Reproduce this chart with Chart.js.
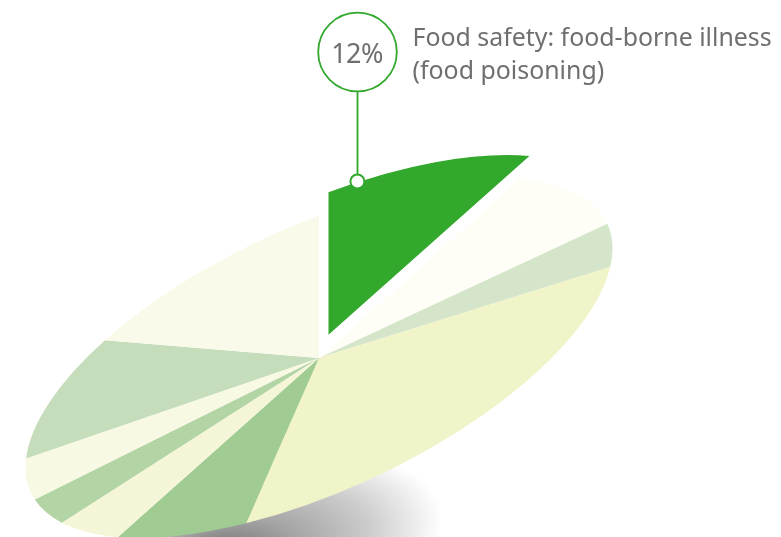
<!DOCTYPE html>
<html lang="en">
<head>
<meta charset="utf-8">
<title>Food safety concerns</title>
<style>
  html, body { margin: 0; padding: 0; background: #ffffff; }
  #wrap { position: relative; width: 781px; height: 537px; overflow: hidden; }
  canvas { display: block; }
</style>
<script src="https://cdn.jsdelivr.net/npm/chart.js@4/dist/chart.umd.min.js"></script>
</head>
<body>
<div id="wrap"><canvas id="pie" width="781" height="537"></canvas></div>
<script>
// Shares in percent, clockwise from twelve o'clock; the first slice is pulled out.
const shares = [12, 10, 5, 27, 8, 5, 4, 5, 11, 13];
const sliceColors = ['#32a82d', '#fefef6', '#d5e5c9', '#f1f3c9', '#a0cb93',
                     '#f5f6d8', '#b3d4a5', '#f8f9e3', '#c5ddbb', '#f9faea'];
const calloutValue = '12%';
const calloutLines = ['Food safety: food-borne illness', '(food poisoning)'];

const GREEN = '#32a82d';
const TEXT = '#6e6f71';
const FONT = '"Noto Sans", Lato, sans-serif';

// The flat pie is sheared onto a tilted ellipse: unit circle to page pixels.
const tilt = { ux: 293.5, uy: -109.6, vy: 142.5, cx: 319, cy: 358 };
// Displacement of the pulled-out slice, in page pixels.
const pull = { dx: 9.5, dy: -23.2 };

const tiltPlugin = {
  id: 'tilt',
  afterDatasetsUpdate(chart) {
    const arc = chart.getDatasetMeta(0).data[0];
    const R = arc.outerRadius;
    const u = pull.dx / tilt.ux;
    const v = (pull.dy - tilt.uy * u) / tilt.vy;
    arc.x += u * R;
    arc.y += v * R;
  },
  beforeDatasetsDraw(chart) {
    const { ctx } = chart;
    const arc = chart.getDatasetMeta(0).data[1];
    const R = arc.outerRadius;

    // Soft shadow under the lower rim, darkest off-centre towards the left.
    ctx.save();
    ctx.beginPath();
    ctx.rect(0, 0, chart.width, chart.height);
    ctx.clip();
    ctx.translate(270, 545);
    ctx.rotate(-12 * Math.PI / 180);
    ctx.scale(1, 0.5);
    const g = ctx.createRadialGradient(-75, 10, 0, 0, 0, 175);
    g.addColorStop(0, '#707070');
    g.addColorStop(0.2, '#808080');
    g.addColorStop(0.4, '#a4a4a4');
    g.addColorStop(0.7, '#cccccc');
    g.addColorStop(0.9, '#eeeeee');
    g.addColorStop(1, '#ffffff');
    ctx.fillStyle = g;
    ctx.beginPath();
    ctx.arc(0, 0, 175, 0, Math.PI * 2);
    ctx.fill();
    ctx.restore();

    ctx.save();
    const a = tilt.ux / R, b = tilt.uy / R, d = tilt.vy / R;
    ctx.transform(a, b, 0, d,
      tilt.cx - a * arc.x,
      tilt.cy - b * arc.x - d * arc.y);
  },
  afterDatasetsDraw(chart) {
    chart.ctx.restore();
  },
  afterDraw(chart) {
    const { ctx } = chart;
    ctx.save();

    // Leader line, ring and anchor dot.
    ctx.strokeStyle = GREEN;
    ctx.lineWidth = 1.8;
    ctx.beginPath();
    ctx.moveTo(357.5, 91);
    ctx.lineTo(357.5, 176);
    ctx.stroke();

    ctx.fillStyle = '#ffffff';
    ctx.beginPath();
    ctx.arc(357.5, 52, 39.3, 0, Math.PI * 2);
    ctx.fill();
    ctx.stroke();

    ctx.lineWidth = 2;
    ctx.beginPath();
    ctx.arc(357.4, 181.4, 7, 0, Math.PI * 2);
    ctx.fill();
    ctx.stroke();

    // Labels.
    ctx.fillStyle = TEXT;
    ctx.textBaseline = 'alphabetic';
    ctx.textAlign = 'center';
    ctx.font = '27px ' + FONT;
    ctx.letterSpacing = '-0.6px';
    ctx.fillText(calloutValue, 357, 62.5);

    ctx.textAlign = 'left';
    ctx.font = '24.9px ' + FONT;
    ctx.letterSpacing = '0px';
    ctx.fillText(calloutLines[0], 412.5, 46);
    ctx.fillText(calloutLines[1], 412.5, 78.5);
    ctx.restore();
  }
};

new Chart(document.getElementById('pie'), {
  type: 'pie',
  data: {
    datasets: [{
      data: shares,
      backgroundColor: sliceColors,
      borderWidth: 0,
      clip: false
    }]
  },
  options: {
    responsive: false,
    animation: false,
    events: [],
    layout: { padding: 0 },
    plugins: { legend: { display: false }, tooltip: { enabled: false } }
  },
  plugins: [tiltPlugin]
});
</script>
</body>
</html>
